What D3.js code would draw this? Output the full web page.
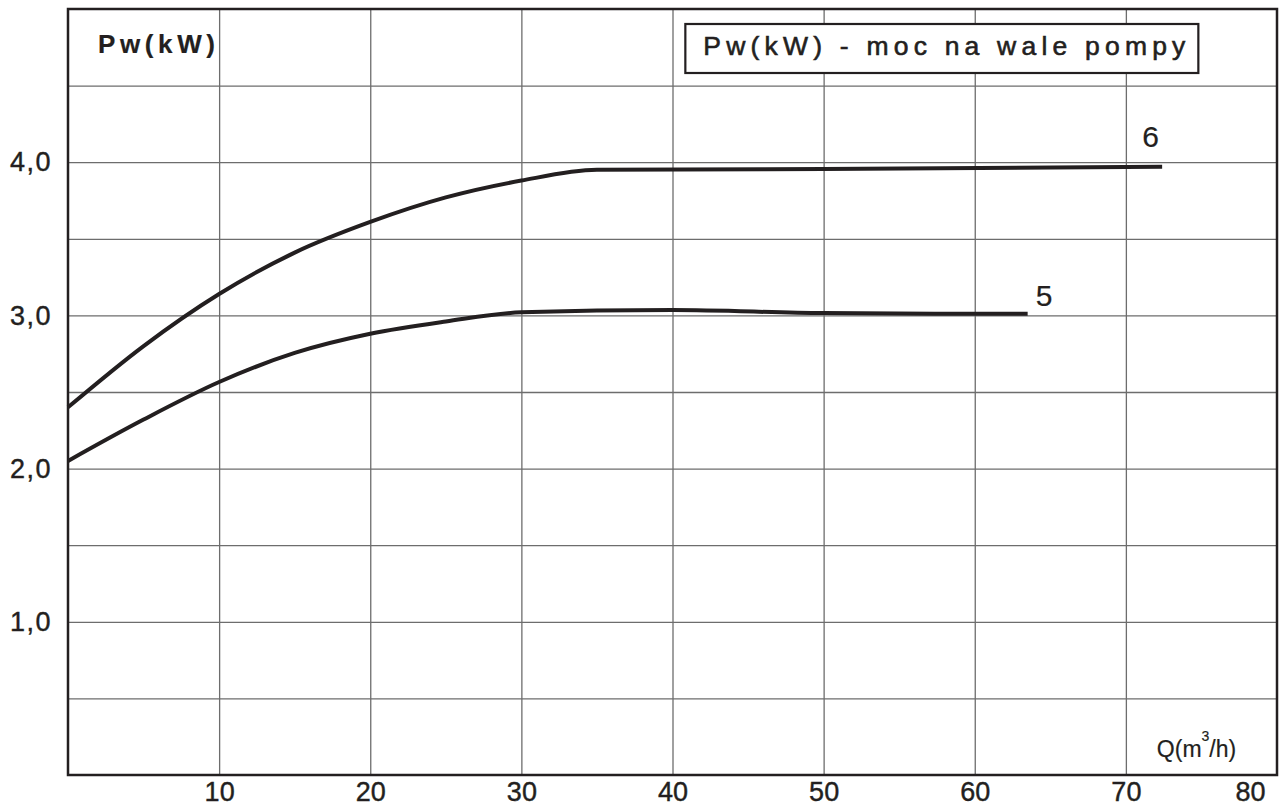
<!DOCTYPE html>
<html lang="pl">
<head>
  <meta charset="UTF-8">
  <title>Pw(kW) - moc na wale pompy</title>
  <script src="https://cdn.jsdelivr.net/npm/d3@7"></script>
  <style>
    body { margin: 0; background: #fff; }
    text { font-family: "Liberation Sans", Arial, sans-serif; fill: #231f20; stroke: #231f20; stroke-width: 0.4px; }
    .grid line { stroke: #6d6d6d; stroke-width: 1.3px; }
    .grid path { display: none; }
    .tick-labels path, .tick-labels line { display: none; }
    .curve { fill: none; stroke: #231f20; stroke-width: 4px; }
  </style>
</head>
<body>
<svg width="1282" height="810"></svg>
<script>
  // Q (m3/h) i Pw (kW)
  var q6  = [0, 5, 10, 15, 20, 25, 30, 35, 50, 72.4];
  var pw6 = [2.40, 2.80, 3.14, 3.41, 3.61, 3.77, 3.88, 3.95, 3.955, 3.97];

  var q5  = [0, 5, 10, 15, 20, 25, 30, 40, 50, 63.5];
  var pw5 = [2.05, 2.32, 2.565, 2.755, 2.88, 2.96, 3.02, 3.035, 3.015, 3.01];

  var xTicks = [10, 20, 30, 40, 50, 60, 70, 80];
  var xGrid = [10, 20, 30, 40, 50, 60, 70];
  var yTicks = [1, 2, 3, 4];
  var yGrid = [0.5, 1, 1.5, 2, 2.5, 3, 3.5, 4, 4.5];

  var svg = d3.select("svg"),
      margin = {top: 9, right: 5, bottom: 35, left: 68},
      width = +svg.attr("width") - margin.left - margin.right,
      height = +svg.attr("height") - margin.top - margin.bottom;

  var g = svg.append("g")
      .attr("transform", "translate(" + margin.left + "," + margin.top + ")");

  var x = d3.scaleLinear().domain([0, 80]).range([0, width]);
  var y = d3.scaleLinear().domain([0, 5]).range([height, 0]);

  // siatka
  g.append("g")
      .attr("class", "grid")
      .attr("transform", "translate(0," + height + ")")
      .call(d3.axisBottom(x).tickValues(xGrid).tickSize(-height).tickFormat(""));

  g.append("g")
      .attr("class", "grid")
      .call(d3.axisLeft(y).tickValues(yGrid).tickSize(-width).tickFormat(""));

  // opisy osi
  var xLabels = g.append("g")
      .attr("class", "tick-labels")
      .attr("transform", "translate(0," + height + ")")
      .call(d3.axisBottom(x).tickValues(xTicks).tickSize(0).tickPadding(7));
  xLabels.selectAll("text")
      .attr("font-size", 27)
      .attr("font-family", null);
  // ostatni opis (80) przesuniety w lewo, jak w oryginale
  xLabels.selectAll(".tick").filter(function(d) { return d === 80; })
      .select("text")
      .attr("text-anchor", "end")
      .attr("dx", -12);

  g.append("g")
      .attr("class", "tick-labels")
      .call(d3.axisLeft(y).tickValues(yTicks).tickSize(0).tickPadding(16)
        .tickFormat(function(d) { return d3.format(".1f")(d).replace(".", ","); }))
      .selectAll("text")
      .attr("font-size", 27)
      .attr("font-family", null)
      .style("letter-spacing", "1.5px");

  // krzywe
  var line = d3.line()
      .curve(d3.curveMonotoneX)
      .x(function(d) { return x(d[0]); })
      .y(function(d) { return y(d[1]); });

  var series = [
    {name: "6", data: d3.zip(q6, pw6)},
    {name: "5", data: d3.zip(q5, pw5)}
  ];

  g.selectAll(".curve")
      .data(series)
    .enter().append("path")
      .attr("class", "curve")
      .attr("d", function(d) { return line(d.data); });

  g.selectAll(".curve-label")
      .data(series)
    .enter().append("text")
      .attr("class", "curve-label")
      .attr("x", function(d) { var p = d.data[d.data.length - 1]; return x(p[0]) + (d.name === "6" ? -20 : 8); })
      .attr("y", function(d) { var p = d.data[d.data.length - 1]; return y(p[1]) + (d.name === "6" ? -20 : -8); })
      .attr("font-size", 30)
      .style("stroke-width", "0.2px")
      .text(function(d) { return d.name; });

  // ramka
  g.append("rect")
      .attr("width", width)
      .attr("height", height)
      .attr("fill", "none")
      .attr("stroke", "#231f20")
      .attr("stroke-width", 2.5);

  // tytul osi Y
  g.append("text")
      .attr("x", 30)
      .attr("y", 44)
      .attr("font-size", 26)
      .attr("font-weight", "bold")
      .attr("textLength", 117)
      .attr("lengthAdjust", "spacing")
      .style("stroke-width", "0.2px")
      .text("Pw(kW)");

  // legenda w ramce
  var legend = g.append("g")
      .attr("transform", "translate(" + (x(40.85)) + ",15)");

  legend.append("rect")
      .attr("width", 513)
      .attr("height", 49)
      .attr("fill", "#fff")
      .attr("stroke", "#231f20")
      .attr("stroke-width", 2.2);

  legend.append("text")
      .attr("x", 18)
      .attr("y", 31)
      .attr("font-size", 26.5)
      .attr("textLength", 482)
      .attr("lengthAdjust", "spacing")
      .style("stroke-width", "0.6px")
      .text("Pw(kW) - moc na wale pompy");

  // opis osi X
  var qLabel = g.append("text")
      .attr("x", x(72.05))
      .attr("y", height - 18)
      .attr("font-size", 23)
      .style("stroke-width", "0.2px");
  qLabel.append("tspan").text("Q(m");
  qLabel.append("tspan").attr("dy", -16).attr("font-size", 14).text("3");
  qLabel.append("tspan").attr("dy", 16).text("/h)");
</script>
</body>
</html>
